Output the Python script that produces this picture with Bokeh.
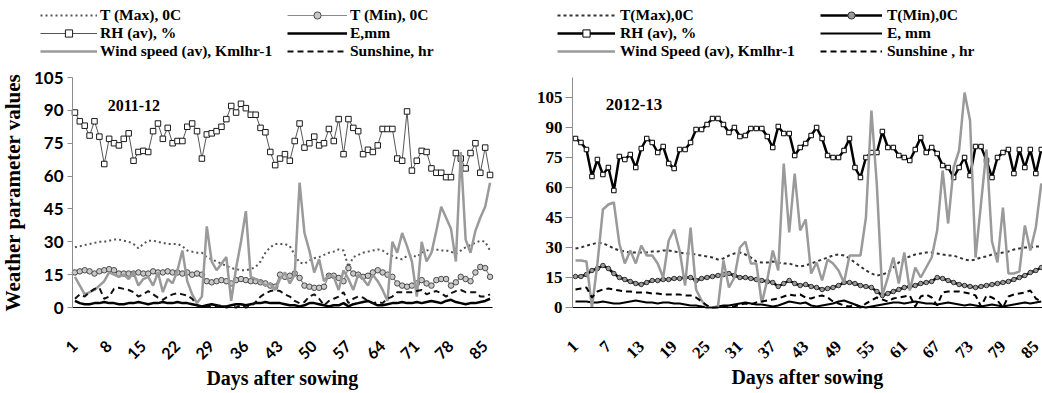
import math
from bokeh.plotting import figure
from bokeh.models import Range1d, FixedTicker, Legend, LegendItem, Label
from bokeh.layouts import row
from bokeh.embed import file_html
from bokeh.resources import INLINE

DAYS = list(range(1, 87))

# ---------------- 2011-12 ----------------
TMAX_1112 = [27.5, 28, 28.5, 29, 29.5, 30, 30, 30.5, 31, 31,
             30.5, 30, 29, 27, 29, 30.5, 30.5, 30, 29.5, 29,
             29, 29, 28, 26, 25.5, 25, 25, 23, 22, 21,
             20, 19, 18, 17.5, 17, 17, 17.5, 18.5, 21, 25,
             27.5, 29, 29, 29, 28, 24, 20.5, 20, 21.5, 22.5,
             23, 24, 25, 25.5, 26.5, 26, 18.5, 23, 24, 25,
             25.5, 26, 26.5, 26, 24.5, 23.5, 22.5, 22, 23.5, 24,
             23, 25, 26, 26.5, 26.5, 26, 26, 25.5, 24.5, 26,
             27.5, 28.5, 29.5, 30.5, 30, 26]
TMIN_1112 = [16, 16.5, 17, 16.5, 15.5, 16.5, 17, 17.5, 17, 15.5,
             15.5, 15.5, 15.5, 16, 15.5, 15.5, 16.5, 16, 16, 16.5,
             16, 16, 15.5, 16, 15, 15.5, 15, 12, 11.5, 12,
             12.5, 12, 11, 12.5, 13, 12.5, 12, 12, 11.5, 11,
             10, 9.5, 15, 14, 14.5, 15.5, 13.5, 10, 9.5, 9,
             9, 9.5, 14.5, 14.5, 13.5, 12, 18, 15.5, 15, 14,
             14.5, 16, 17, 16, 15, 14, 11, 10, 9.5, 10,
             11, 12.5, 11, 10, 12.5, 13, 13, 10, 11.5, 14,
             13, 12, 16, 18.5, 18, 14]
RH_1112 = [89, 85, 83, 78.5, 85, 78, 65.5, 77, 75, 74,
           77, 79.5, 67, 71, 71.5, 71, 80.5, 84, 77, 82,
           75, 76, 76, 82.5, 84, 80.5, 68, 79, 79.5, 80.5,
           82.5, 86, 92, 89, 93, 91, 88, 88, 82, 80,
           71, 65, 68, 70, 67, 76, 84, 73, 75, 78,
           74, 75, 81.5, 76, 86, 70, 86, 82, 80.5, 70,
           72, 71, 74, 81.5, 81.5, 81.5, 68, 67, 89.5, 62.5,
           67, 71.5, 71, 63.5, 61.5, 61.5, 59.5, 59.5, 70.5, 68,
           63.5, 70.5, 75, 61.5, 73, 60.5]
E_1112 = [3, 2, 1.5, 1.5, 2, 2, 2.5, 2, 2, 1.5,
          1.5, 2, 2, 2.5, 2, 1.5, 2, 2, 2.5, 2,
          2, 2.5, 2, 2, 1.5, 1, 0.5, 1, 1.5, 1,
          0.5, 0.5, 1, 1.5, 1.5, 1, 1.5, 2, 2, 2.5,
          2, 2, 2, 1.5, 1, 1, 0.5, 1, 2, 2,
          1.5, 1, 0.5, 1, 1, 2, 0.5, 1.5, 2, 2.5,
          3, 2, 1, 1, 1.5, 2, 2, 2.5, 2, 2,
          2.5, 2, 2.5, 3, 2.5, 2, 3, 3.5, 2.5, 2,
          1.5, 2, 2, 2.5, 3, 4]
WIND_1112 = [14, 10, 6, 7, 8, 10, 12, 16, 15, 14,
             15, 13, 16, 10, 13, 14, 10, 16, 7, 13,
             11, 17, 26, 12, 6, 2, 5, 37, 21, 17,
             20, 23, 3, 18, 30, 44, 14, 13, 12, 10,
             11, 8, 13, 16, 11, 15, 57, 34, 26, 16,
             22, 12, 15, 14, 8, 17, 13, 8, 15, 13,
             10, 15, 12, 8, 3, 30, 25, 34, 28, 21,
             5, 30, 21, 25, 35, 46, 41, 36, 21, 71,
             31, 25, 35, 41, 46, 57]
SUN_1112 = [4, 6, 5, 7, 8.5, 9, 4, 5, 8.5, 9,
            8.5, 8, 7, 5, 6, 7.5, 6, 4.5, 3.5, 5,
            6, 6.5, 6, 5.5, 4, 1, 0, 0.5, 0, 0.5,
            1, 0, 0.5, 0, 1, 0, 0.5, 2.5, 5, 6.5,
            7.5, 8, 7.5, 6, 5, 3, 2, 2.5, 5, 6,
            4, 1, 3, 4, 5, 7, 2, 4, 5, 4.5,
            3, 2, 2.5, 2, 4, 5, 7, 7, 7, 7,
            7.5, 8, 6, 7, 7.5, 6.5, 5, 6.5, 7.5, 8,
            7, 7, 7, 5, 5, 6]

# ---------------- 2012-13 ----------------
TMAX_1213 = [29.5, 30, 31, 31.5, 32.5, 32, 31, 29.5, 28.5, 28,
             27.5, 27.5, 27.5, 27.5, 28, 28, 28.5, 28.5, 28, 27.5,
             27, 27, 26.5, 26, 25.5, 25, 24, 24.5, 26, 27,
             27.5, 26.5, 25, 23, 22.5, 22.5, 23, 22.5, 22, 22,
             21, 20.5, 21, 22, 23, 24, 25, 26, 26.5, 26,
             24.5, 22.5, 20.5, 18.5, 17, 16, 16.5, 17.5, 20, 22.5,
             24.5, 25.5, 26.5, 27, 27.5, 27.5, 27, 26.5, 26, 26,
             25, 24, 23.5, 24, 25, 25.5, 26.5, 27, 27.5, 28,
             29, 29.5, 30, 30, 30.5, 30.5]
TMIN_1213 = [15.5, 15.5, 16.5, 18.5, 19.5, 21, 19.5, 17, 15, 14,
             13, 12, 11.5, 12.5, 13.5, 13.5, 14, 14, 14.5, 14.5,
             15, 15, 13.5, 14.5, 15, 15.5, 16, 16.5, 17, 16,
             15, 15, 14.5, 14, 13.5, 13, 12.5, 10.5, 12, 13.5,
             12, 11, 11.5, 10.5, 10, 9, 9.5, 10, 11, 12.5,
             12.5, 12, 11, 10.5, 10, 8, 6, 7, 8, 9,
             10, 10.5, 11, 12, 12.5, 13, 15, 14.5, 13.5, 12.5,
             11.5, 11, 10.5, 10, 10.5, 11, 11.5, 12, 12.5, 13,
             14, 15, 16, 17.5, 18.5, 20]
RH_1213 = [84.5, 82.5, 79, 65.5, 74, 66.5, 70, 58.5, 75.5, 74,
           76.5, 70, 79.5, 84.5, 82.5, 77.5, 80.5, 72, 69.5, 79,
           79, 82.5, 89, 89, 91.5, 94.5, 94.5, 91.5, 87.5, 90,
           85.5, 86, 89.5, 89.5, 89.5, 85.5, 80, 90.5, 87, 87,
           76, 80, 82, 86, 90, 84.5, 76, 75, 75, 78.5,
           84.5, 70, 65, 75, 77.5, 77.5, 88, 80, 80, 76,
           75, 73.5, 79, 85, 77.5, 80, 77, 71, 70, 65,
           70, 75, 66, 80.5, 80.5, 73.5, 65, 75, 77.5, 79,
           67, 79, 70, 79, 67, 79]
E_1213 = [3, 3, 3, 2.5, 2.5, 3, 2.5, 2, 2, 2.5,
          3, 3.5, 3, 2.5, 2.5, 2, 2.5, 2.5, 2, 2,
          1.5, 1, 1, 0.5, 0, 0, 0.5, 1, 1, 1.5,
          2, 2.5, 2, 1.5, 1.5, 1, 0.5, 1, 2, 3,
          2.5, 2, 2.5, 1, 0.5, 1, 1.5, 2, 3, 3.5,
          2.5, 1.5, 0.5, 0, 0.5, 1, 1.5, 2, 2.5, 2.5,
          2, 2.5, 3, 2.5, 2, 2, 1.5, 2, 2.5, 2,
          1.5, 1, 1.5, 1, 0.5, 1, 1.5, 1, 0.5, 1,
          1.5, 2, 2.5, 2, 2.5, 3]
WIND_1213 = [23.5, 23.5, 23, 0, 22, 49, 51.5, 52.5, 32, 22,
             28.5, 22, 31, 26, 26, 22, 15, 33.5, 39, 28.5,
             11, 40, 9, 3.5, 0, 0, 0.5, 23.5, 10, 15,
             30, 33, 22, 22, 2, 14, 28.5, 18.5, 72, 37.5,
             67, 38.5, 44, 17, 22.5, 13.5, 24, 22, 18.5, 12.5,
             26, 26, 26, 45, 98.5, 61, 6, 15, 25, 12,
             27.5, 8.5, 20, 15, 20, 25, 38.5, 68.5, 42, 70,
             78.5, 107.5, 93.5, 25, 52, 79, 33, 22.5, 50, 17,
             17, 18, 41, 28.5, 40, 62]
SUN_1213 = [9, 9.5, 10, 5, 8, 9, 9.5, 9, 8.5, 8,
            8, 7.5, 7.5, 7.5, 7, 7, 6.5, 6.5, 6.5, 6.5,
            6, 6, 5, 3, 1, 0, 0, 0.5, 0, 0.5,
            1.5, 2, 1.5, 2.5, 3, 3.5, 4, 4.5, 5.5, 6.5,
            6, 6.5, 5, 4.5, 5.5, 6, 5, 3, 2, 1,
            0.5, 1.5, 0, 2, 3.5, 5, 4, 3, 4.5, 5,
            5.5, 6, 0.5, 5.5, 6.5, 5, 1, 7.5, 8, 8,
            8, 7.5, 7, 6, 0.5, 6, 5, 3.5, 0, 5.5,
            6.5, 7, 7.5, 8.5, 4.5, 3]

TICKS_1112 = [1, 8, 15, 22, 29, 36, 43, 50, 57, 64, 71, 78, 85]
TICKS_1213 = [1, 7, 13, 19, 25, 31, 37, 43, 49, 55, 61, 67, 73, 79, 85]
Y_TICKS = [0, 15, 30, 45, 60, 75, 90, 105]

LABELS_1112 = ["T (Max), 0C", "T (Min), 0C", "RH (av), %", "E,mm",
               "Wind speed (av), Kmlhr-1", "Sunshine, hr"]
LABELS_1213 = ["T(Max),0C", "T(Min),0C", "RH (av), %", "E, mm",
               "Wind Speed (av), Kmlhr-1", "Sunshine , hr"]

SERIF = "Liberation Serif"
SANS = "Lato"

STY_L = dict(
    tmax=dict(line_color="#555555", line_width=2, line_dash="2 3"),
    tmin=dict(line_color="#8a8a8a", line_width=1.2),
    tmin_m=dict(marker="circle", size=5.5, fill_color="#c8c8c8", line_color="#4a4a4a", line_width=1),
    rh=dict(line_color="#555555", line_width=1),
    rh_m=dict(marker="square", size=5.5, fill_color="white", line_color="#1a1a1a", line_width=1),
    e=dict(line_color="#000000", line_width=2.5),
    wind=dict(line_color="#9a9a9a", line_width=2.5),
    sun=dict(line_color="#111111", line_width=2, line_dash="6 4"),
)
STY_R = dict(
    tmax=dict(line_color="#333333", line_width=2, line_dash="3 3"),
    tmin=dict(line_color="#000000", line_width=2.5),
    tmin_m=dict(marker="circle", size=4.5, fill_color="#9a9a9a", line_color="#333333", line_width=1),
    rh=dict(line_color="#000000", line_width=2.5),
    rh_m=dict(marker="square", size=4.5, fill_color="white", line_color="#000000", line_width=1),
    e=dict(line_color="#000000", line_width=2),
    wind=dict(line_color="#9a9a9a", line_width=2.5),
    sun=dict(line_color="#000000", line_width=2, line_dash="6 4"),
)

H = 393          # figure height
Y0_PX = 307      # pixel row of the x axis (value 0)


def make_panel(width, x_range, px_per_unit, x_bounds, y_bound_top, y_fixed,
               tick_font, xtick_size, ytick_size):
    y_rng = (-(H - Y0_PX) / px_per_unit, Y0_PX / px_per_unit)
    p = figure(width=width, height=H, output_backend="svg", toolbar_location=None,
               x_range=Range1d(*x_range), y_range=Range1d(*y_rng),
               min_border_left=0, min_border_right=0, min_border_top=0,
               min_border_bottom=0, background_fill_color="white")
    p.xgrid.visible = False
    p.ygrid.visible = False
    p.outline_line_color = None
    xa, ya = p.xaxis[0], p.yaxis[0]
    for ax in (xa, ya):
        ax.major_label_text_font = tick_font
        ax.major_label_text_font_style = "bold"
        ax.major_label_text_color = "#000000"
        ax.minor_tick_line_color = None
        ax.axis_label_text_font = SERIF
        ax.axis_label_text_font_style = "bold"
        ax.axis_label_text_font_size = "20px"
        ax.axis_label_text_color = "#000000"
    xa.major_label_text_font_size = xtick_size
    ya.major_label_text_font_size = ytick_size
    ya.fixed_location = y_fixed
    ya.bounds = (0, y_bound_top)
    ya.axis_line_color = "#8c8c8c"
    ya.major_tick_line_color = "#8c8c8c"
    ya.major_tick_out = 5
    ya.major_tick_in = 0
    ya.major_label_standoff = 4
    ya.ticker = FixedTicker(ticks=Y_TICKS)
    xa.fixed_location = 0
    xa.bounds = x_bounds
    xa.axis_line_color = "#000000"
    xa.axis_line_width = 1.2
    xa.major_tick_line_color = None
    xa.major_label_orientation = math.pi / 4
    xa.major_label_standoff = 30
    xa.axis_label = "Days after sowing"
    xa.axis_label_standoff = 0
    return p


def draw_series(p, sty, tmax, tmin, rh, e, wind, sun):
    r = {}
    r["tmax"] = p.line(DAYS, tmax, **sty["tmax"])
    r["tmin"] = p.line(DAYS, tmin, **sty["tmin"])
    r["tmin_m"] = p.scatter(DAYS, tmin, **sty["tmin_m"])
    r["rh"] = p.line(DAYS, rh, **sty["rh"])
    r["rh_m"] = p.scatter(DAYS, rh, **sty["rh_m"])
    r["e"] = p.line(DAYS, e, **sty["e"])
    r["wind"] = p.line(DAYS, wind, **sty["wind"])
    r["sun"] = p.line(DAYS, sun, **sty["sun"])
    return r


def add_legends(p, r, labels, xs, glyph_ws, standoff, vy):
    items = [LegendItem(label=labels[0], renderers=[r["tmax"]]),
             LegendItem(label=labels[1], renderers=[r["tmin"], r["tmin_m"]]),
             LegendItem(label=labels[2], renderers=[r["rh"], r["rh_m"]]),
             LegendItem(label=labels[3], renderers=[r["e"]]),
             LegendItem(label=labels[4], renderers=[r["wind"]]),
             LegendItem(label=labels[5], renderers=[r["sun"]])]
    cols = ([items[0], items[2], items[4]], [items[1], items[3], items[5]])
    for col, x, gw in zip(cols, xs, glyph_ws):
        lg = Legend(items=col, location=(x, vy), orientation="vertical",
                    glyph_width=gw, glyph_height=18, label_height=18,
                    label_standoff=standoff, spacing=0, padding=0, margin=0,
                    border_line_alpha=0, background_fill_alpha=0,
                    label_text_font=SERIF, label_text_font_style="bold",
                    label_text_font_size="15.5px", label_text_color="#000000")
        p.add_layout(lg)


LEG_VY = H - 60   # legend bottom edge sits 60 px below the top of the picture

# ---------------- left panel (2011-12) ----------------
PX_L = 230 / 105.0        # pixels per unit (y)
DX_L = 420 / 86.0         # pixels per day (x)
xr_l = (0.5 - 72 / DX_L, 0.5 + (520 - 72) / DX_L)
p1 = make_panel(520, xr_l, PX_L, (0.5, 86.5), 105, 0.5, SANS, "16px", "17px")
p1.xaxis[0].ticker = FixedTicker(ticks=TICKS_1112)
p1.yaxis[0].axis_label = "Weather parameter values"
p1.yaxis[0].axis_label_text_font_size = "21px"
p1.yaxis[0].axis_label_standoff = 6
r1 = draw_series(p1, STY_L, TMAX_1112, TMIN_1112, RH_1112, E_1112, WIND_1112, SUN_1112)
add_legends(p1, r1, LABELS_1112, (40, 287), (57, 60), 3, LEG_VY)
p1.add_layout(Label(x=7.7, y=92, text="2011-12", text_font=SERIF, text_font_style="bold",
                    text_font_size="16px", text_baseline="middle", text_color="#000000"))

# ---------------- right panel (2012-13) ----------------
PX_R = 2.0
DX_R = 5.48
X0_R = 0.453
xr_r = (X0_R - 52 / DX_R, X0_R + (522 - 52) / DX_R)
p2 = make_panel(522, xr_r, PX_R, (X0_R, xr_r[1]), 115, X0_R, SERIF, "17px", "17px")
p2.xaxis[0].ticker = FixedTicker(ticks=TICKS_1213)
p2.yaxis[0].major_tick_out = 7
p2.yaxis[0].major_label_standoff = 3
r2 = draw_series(p2, STY_R, TMAX_1213, TMIN_1213, RH_1213, E_1213, WIND_1213, SUN_1213)
add_legends(p2, r2, LABELS_1213, (37, 300), (58, 62), 5, LEG_VY)
p2.add_layout(Label(x=6.5, y=101.5, text="2012-13", text_font=SERIF, text_font_style="bold",
                    text_font_size="17px", text_baseline="middle", text_color="#000000"))

layout = row(p1, p2)
open("out.html", "w").write(file_html(layout, INLINE, "Weather parameters"))
